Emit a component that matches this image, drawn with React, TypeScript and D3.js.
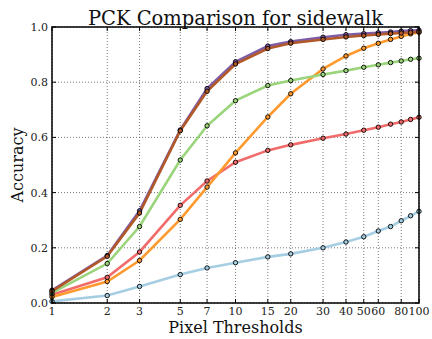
import { useEffect, useRef } from 'react';
import * as d3 from 'd3';

const thresholds = [1, 2, 3, 5, 7, 10, 15, 20, 30, 40, 50, 60, 70, 80, 90, 100];
const xTicks = [1, 2, 3, 5, 7, 10, 15, 20, 30, 40, 50, 60, 80, 100];
const yTicks = [0, 0.2, 0.4, 0.6, 0.8, 1.0];

const seriesBlue = [0.006, 0.027, 0.06, 0.103, 0.127, 0.146, 0.167, 0.178, 0.2, 0.221, 0.24, 0.261, 0.277, 0.298, 0.316, 0.332];
const seriesRed = [0.03, 0.093, 0.185, 0.354, 0.442, 0.51, 0.553, 0.573, 0.597, 0.612, 0.626, 0.637, 0.648, 0.656, 0.665, 0.673];
const seriesOrange = [0.022, 0.078, 0.154, 0.303, 0.42, 0.544, 0.674, 0.758, 0.848, 0.895, 0.923, 0.941, 0.955, 0.966, 0.975, 0.981];
const seriesGreen = [0.037, 0.143, 0.277, 0.518, 0.642, 0.733, 0.788, 0.806, 0.828, 0.842, 0.854, 0.863, 0.871, 0.877, 0.883, 0.887];
const seriesPurple = [0.046, 0.172, 0.334, 0.627, 0.777, 0.874, 0.931, 0.947, 0.963, 0.972, 0.976, 0.979, 0.982, 0.985, 0.987, 0.988];
const seriesBrown = [0.043, 0.169, 0.326, 0.624, 0.767, 0.866, 0.922, 0.941, 0.955, 0.964, 0.969, 0.973, 0.976, 0.978, 0.98, 0.982];

const series = [
  { values: seriesBlue, color: '#a6cee3' },
  { values: seriesRed, color: '#f26b6b' },
  { values: seriesOrange, color: '#ff9a2e' },
  { values: seriesGreen, color: '#9ad47b' },
  { values: seriesPurple, color: '#7e5ca8' },
  { values: seriesBrown, color: '#b15928' },
];

export default function App() {
  const svgRef = useRef<SVGSVGElement>(null);

  useEffect(() => {
    if (!svgRef.current) return;
    const svg = d3.select(svgRef.current);
    svg.selectAll('*').remove();

    const margin = { top: 27, right: 13, bottom: 36, left: 52 };
    const width = 432;
    const height = 339;
    const font = 'DejaVu Serif, serif';

    const x = d3.scaleLog().domain([1, 100]).range([margin.left, width - margin.right]);
    const y = d3.scaleLinear().domain([0, 1]).range([height - margin.bottom, margin.top]);

    const g = svg.append('g');

    // grid
    g.selectAll('.vgrid')
      .data(xTicks)
      .enter()
      .append('line')
      .attr('x1', (d) => x(d))
      .attr('x2', (d) => x(d))
      .attr('y1', y(0))
      .attr('y2', y(1))
      .attr('stroke', '#555')
      .attr('stroke-width', 0.8)
      .attr('stroke-dasharray', '1,2');
    g.selectAll('.hgrid')
      .data(yTicks)
      .enter()
      .append('line')
      .attr('x1', x(1))
      .attr('x2', x(100))
      .attr('y1', (d) => y(d))
      .attr('y2', (d) => y(d))
      .attr('stroke', '#555')
      .attr('stroke-width', 0.8)
      .attr('stroke-dasharray', '1,2');

    const line = d3
      .line<number>()
      .x((_, i) => x(thresholds[i]))
      .y((d) => y(d));

    series.forEach((s) => {
      g.append('path')
        .attr('d', line(s.values))
        .attr('fill', 'none')
        .attr('stroke', s.color)
        .attr('stroke-width', 2.6);
    });
    series.forEach((s) => {
      g.selectAll(null)
        .data(s.values)
        .enter()
        .append('circle')
        .attr('cx', (_, i) => x(thresholds[i]))
        .attr('cy', (d) => y(d))
        .attr('r', 2.2)
        .attr('fill', s.color)
        .attr('stroke', '#000')
        .attr('stroke-width', 0.9);
    });

    // frame
    g.append('rect')
      .attr('x', x(1))
      .attr('y', y(1))
      .attr('width', x(100) - x(1))
      .attr('height', y(0) - y(1))
      .attr('fill', 'none')
      .attr('stroke', '#000')
      .attr('stroke-width', 1.5);

    // ticks (inward, both sides)
    xTicks.forEach((t) => {
      g.append('line').attr('x1', x(t)).attr('x2', x(t)).attr('y1', y(0)).attr('y2', y(0) - 4).attr('stroke', '#000');
      g.append('line').attr('x1', x(t)).attr('x2', x(t)).attr('y1', y(1)).attr('y2', y(1) + 4).attr('stroke', '#000');
      g.append('text')
        .attr('x', x(t))
        .attr('y', y(0) + 12)
        .attr('text-anchor', 'middle')
        .attr('font-family', font)
        .attr('font-size', 11)
        .attr('fill', '#222')
        .text(String(t));
    });
    yTicks.forEach((t) => {
      g.append('line').attr('x1', x(1)).attr('x2', x(1) + 4).attr('y1', y(t)).attr('y2', y(t)).attr('stroke', '#000');
      g.append('line').attr('x1', x(100)).attr('x2', x(100) - 4).attr('y1', y(t)).attr('y2', y(t)).attr('stroke', '#000');
      g.append('text')
        .attr('x', x(1) - 4)
        .attr('y', y(t) + 4)
        .attr('text-anchor', 'end')
        .attr('font-family', font)
        .attr('font-size', 11)
        .attr('fill', '#222')
        .text(t.toFixed(1));
    });

    svg.append('text')
      .attr('x', (x(1) + x(100)) / 2)
      .attr('y', 25)
      .attr('text-anchor', 'middle')
      .attr('font-family', font)
      .attr('font-size', 19.5)
      .attr('fill', '#111')
      .text('PCK Comparison for sidewalk');

    svg.append('text')
      .attr('x', (x(1) + x(100)) / 2)
      .attr('y', 333)
      .attr('text-anchor', 'middle')
      .attr('font-family', font)
      .attr('font-size', 16)
      .attr('fill', '#111')
      .text('Pixel Thresholds');

    svg.append('text')
      .attr('transform', `translate(23,${(y(0) + y(1)) / 2}) rotate(-90)`)
      .attr('text-anchor', 'middle')
      .attr('font-family', font)
      .attr('font-size', 16)
      .attr('fill', '#111')
      .text('Accuracy');
  }, []);

  return (
    <svg
      ref={svgRef}
      width={432}
      height={339}
      style={{ position: 'absolute', left: 0, top: 0, background: '#fff' }}
    />
  );
}
